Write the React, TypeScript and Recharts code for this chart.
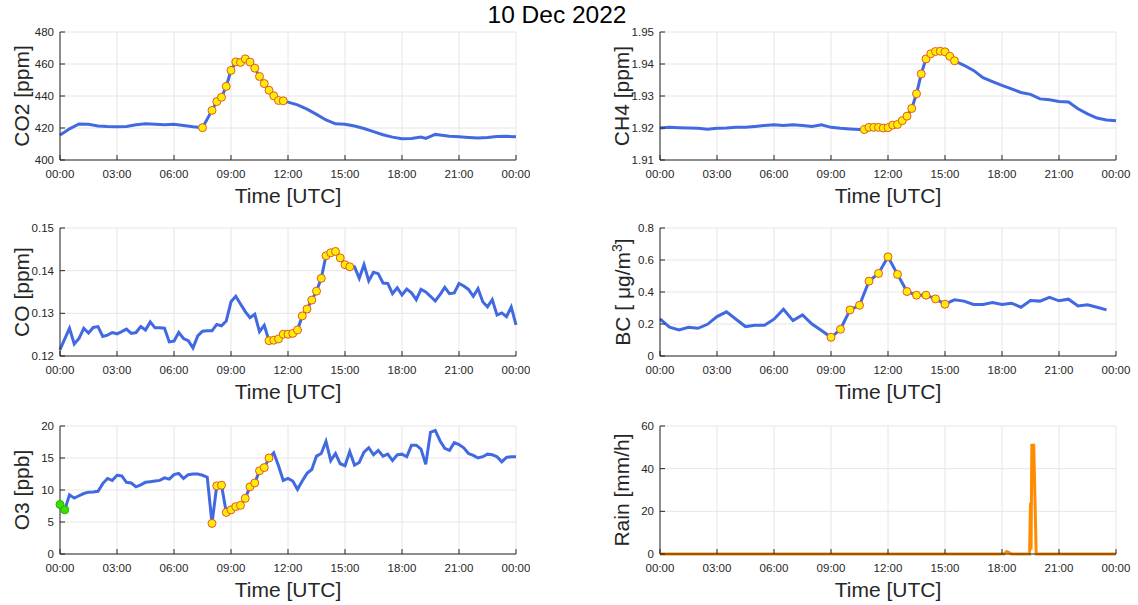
import { LineChart, Line, XAxis, YAxis, CartesianGrid } from "recharts";

const FONT = '"Liberation Sans", Arial, Helvetica, sans-serif';
const BLUE = "#4169e1";
const ORANGE = "#ff8c00";
const INK = "#262626";
const GRID = "#e6e6e6";

// x axis: hours of the day, labelled as HH:00
const timeTicks = [0, 3, 6, 9, 12, 15, 18, 21, 24];

// shared 15-minute time base (CO, O3)
const quarterHours = [
  0, 0.25, 0.5, 0.75, 1, 1.25, 1.5, 1.75, 2, 2.25, 2.5, 2.75,
  3, 3.25, 3.5, 3.75, 4, 4.25, 4.5, 4.75, 5, 5.25, 5.5, 5.75,
  6, 6.25, 6.5, 6.75, 7, 7.25, 7.5, 7.75, 8, 8.25, 8.5, 8.75,
  9, 9.25, 9.5, 9.75, 10, 10.25, 10.5, 10.75, 11, 11.25, 11.5, 11.75,
  12, 12.25, 12.5, 12.75, 13, 13.25, 13.5, 13.75, 14, 14.25, 14.5, 14.75,
  15, 15.25, 15.5, 15.75, 16, 16.25, 16.5, 16.75, 17, 17.25, 17.5, 17.75,
  18, 18.25, 18.5, 18.75, 19, 19.25, 19.5, 19.75, 20, 20.25, 20.5, 20.75,
  21, 21.25, 21.5, 21.75, 22, 22.25, 22.5, 22.75, 23, 23.25, 23.5, 23.75,
  24,
];

// CO2 [ppm]
const co2Hours = [
  0, 0.25, 0.5, 1, 1.5, 2, 2.5, 3, 3.5, 4, 4.5, 5, 5.5, 6, 6.5, 7,
  7.5, 8, 8.25, 8.5, 8.75, 9, 9.25, 9.5, 9.75, 10, 10.25, 10.5, 10.75, 11, 11.25, 11.5, 11.75,
  12, 12.5, 13, 13.5, 14, 14.5, 15, 15.5, 16, 16.5, 17, 17.5, 18, 18.5, 19,
  19.25, 19.5, 19.75, 20, 20.5, 21, 21.5, 22, 22.5, 23, 23.5, 24,
];
const co2Ppm = [
  415.6, 417.5, 419.5, 422.5, 422.4, 421.3, 420.9, 420.8, 421.0, 422.0, 422.6, 422.4, 422.1, 422.3, 421.6, 420.8,
  420.2, 431, 436.5, 439.2, 446, 456, 461.3, 461, 463.2, 461.2, 457.4, 452.2, 447.8, 443.6, 440.1, 437.2, 437,
  436.2, 434.5, 431.8, 428.5, 425, 422.6, 422.4, 421.2, 419.7, 417.7, 415.8, 414.3, 413.3, 413.5, 414.3,
  413.5, 414.8, 416, 415.6, 414.8, 414.5, 414.1, 413.7, 414.0, 414.7, 414.8, 414.5,
];
const co2Marked: [number, number, string][] = [[7.5, 11.75, "yellow"]];

// CH4 [ppm]
const ch4Hours = [
  0, 0.5, 1, 1.5, 2, 2.5, 3, 3.5, 4, 4.5, 5, 5.5, 6, 6.5, 7, 7.5, 8, 8.5, 9, 9.5, 10, 10.5,
  10.75, 11, 11.25, 11.5, 11.75, 12, 12.25, 12.5, 12.75, 13, 13.25, 13.5, 13.75, 14, 14.25, 14.5, 14.75, 15, 15.25, 15.5,
  16, 16.5, 17, 17.5, 18, 18.5, 19, 19.5, 20, 20.5, 21, 21.5, 22, 22.5, 23, 23.5, 24,
];
const ch4Ppm = [
  1.92, 1.9202, 1.9201, 1.92, 1.9199, 1.9196, 1.9199, 1.92, 1.9202, 1.9202, 1.9205, 1.9208, 1.921, 1.9208, 1.921, 1.9208, 1.9205, 1.921, 1.9202, 1.9199, 1.9197, 1.9195,
  1.9195, 1.9202, 1.9202, 1.9202, 1.92, 1.9201, 1.9209, 1.9211, 1.9223, 1.9237, 1.9261, 1.9307, 1.9369, 1.9416, 1.9432, 1.9439, 1.944, 1.9438, 1.9424, 1.941,
  1.9396, 1.938, 1.9357, 1.9345, 1.9333, 1.9322, 1.9311, 1.9305, 1.9291, 1.9288, 1.9283, 1.9281, 1.926, 1.9244, 1.9231, 1.9225, 1.9223,
];
const ch4Marked: [number, number, string][] = [[10.75, 15.5, "yellow"]];

// CO [ppm], 15-minute values
const coPpm = [
  0.1215, 0.124, 0.1265, 0.1228, 0.1241, 0.1265, 0.1254, 0.1267, 0.1269, 0.1246, 0.1249, 0.1255,
  0.1252, 0.1257, 0.1263, 0.1253, 0.1255, 0.1269, 0.1261, 0.128, 0.1266, 0.1266, 0.1265, 0.1233,
  0.1235, 0.1255, 0.1241, 0.1236, 0.1219, 0.1247, 0.1258, 0.1259, 0.1259, 0.1274, 0.1271, 0.1282,
  0.1327, 0.134, 0.1322, 0.1304, 0.129, 0.1298, 0.1257, 0.1272, 0.1236, 0.1237, 0.124, 0.1251,
  0.1251, 0.1253, 0.1261, 0.1294, 0.131, 0.1331, 0.1352, 0.1382, 0.1435, 0.1442, 0.1445, 0.143,
  0.1414, 0.1409, 0.1409, 0.1382, 0.1414, 0.1376, 0.1396, 0.1393, 0.1371, 0.137, 0.1346, 0.136,
  0.1343, 0.1357, 0.1348, 0.1332, 0.1356, 0.135, 0.134, 0.1329, 0.1344, 0.1361, 0.1346, 0.1348,
  0.137, 0.1364, 0.1356, 0.134, 0.1358, 0.1327, 0.1315, 0.1332, 0.1296, 0.1301, 0.1292, 0.1315,
  0.1273,
];
const coMarked: [number, number, string][] = [[11, 15.25, "yellow"]];

// BC [ug/m3], 30-minute values
const bcHours = [
  0, 0.5, 1, 1.5, 2, 2.5, 3, 3.5, 4, 4.5, 5, 5.5, 6, 6.5, 7, 7.5, 8, 8.5,
  9, 9.5, 10, 10.5, 11, 11.5, 12, 12.5, 13, 13.5, 14, 14.5, 15,
  15.5, 16, 16.5, 17, 17.5, 18, 18.5, 19, 19.5, 20, 20.5, 21, 21.5, 22, 22.5, 23, 23.5,
];
const bcUgm3 = [
  0.232, 0.18, 0.163, 0.18, 0.173, 0.198, 0.246, 0.276, 0.23, 0.184, 0.192, 0.192, 0.23, 0.292, 0.221, 0.257, 0.2, 0.159,
  0.117, 0.167, 0.288, 0.317, 0.468, 0.516, 0.62, 0.51, 0.403, 0.38, 0.38, 0.357, 0.324,
  0.351, 0.343, 0.322, 0.322, 0.334, 0.322, 0.33, 0.305, 0.347, 0.343, 0.366, 0.345, 0.355, 0.313, 0.32, 0.305, 0.288,
];
const bcMarked: [number, number, string][] = [[9, 15, "yellow"]];

// O3 [ppb], 15-minute values
const o3Ppb = [
  7.74, 6.9, 9.25, 8.73, 9.1, 9.45, 9.66, 9.7, 9.8, 11.0, 11.8, 11.5,
  12.3, 12.2, 11.2, 11.1, 10.5, 10.8, 11.2, 11.3, 11.4, 11.5, 11.9, 11.7,
  12.4, 12.6, 11.8, 12.4, 12.5, 12.5, 12.3, 12.0, 4.78, 10.65, 10.75, 6.5,
  6.9, 7.4, 7.6, 8.7, 10.5, 11.1, 13.0, 13.5, 15.0, 15.8, 13.8, 11.5,
  11.8, 11.4, 10.1, 11.4, 12.6, 13.2, 15.3, 15.7, 17.6, 14.6, 15.7, 14.1,
  13.8, 16.0, 13.9, 14.3, 15.9, 16.6, 15.5, 16.2, 15.3, 15.6, 14.6, 15.5,
  15.6, 15.2, 17.0, 17.0, 16.4, 14.0, 19.0, 19.3, 17.7, 16.5, 16.2, 17.4,
  17.1, 16.6, 15.7, 15.4, 15.0, 15.2, 15.6, 15.5, 15.2, 14.4, 15.1, 15.2,
  15.2,
];
const o3Marked: [number, number, string][] = [
  [0, 0.25, "green"],
  [8, 11, "yellow"],
];

// Rain [mm/h]
const rainHours = [0, 18.1, 18.25, 18.4, 18.5, 19.45, 19.5, 19.53, 19.57, 19.67, 19.8, 24];
const rainMmh = [0, 0, 1.2, 0.6, 0, 0, 24, 2, 51, 51, 0, 0];

const MARK_STYLE: Record<string, { fill: string; stroke: string }> = {
  yellow: { fill: "#ffee00", stroke: "#e4572e" },
  green: { fill: "#3ce000", stroke: "#22b000" },
};

function buildSeries(hours: number[], values: number[], marks: [number, number, string][] = []) {
  return hours.map((t, i) => {
    const m = marks.find(([a, b]) => t >= a && t <= b);
    return { t, v: values[i], mark: m ? m[2] : undefined };
  });
}

const fmtHour = (h: number) => `${String(h % 24).padStart(2, "0")}:00`;

// eslint-disable-next-line @typescript-eslint/no-explicit-any
const markerDot = (props: any) => {
  const { cx, cy, payload, index } = props;
  const s = payload && payload.mark ? MARK_STYLE[payload.mark] : null;
  if (!s || cx == null || cy == null) return <g key={`d-${index}`} />;
  return <circle key={`d-${index}`} cx={cx} cy={cy} r={4} fill={s.fill} stroke={s.stroke} strokeWidth={1} />;
};

const ROW_TOPS = [32, 228, 426];
const PLOT_H = 128;

type PanelProps = {
  col: number;
  row: number;
  data: { t: number; v: number; mark?: string }[];
  domain: [number, number];
  ticks: number[];
  fmt: (v: number) => string;
  yLabel: React.ReactNode;
  color?: string;
};

function Panel({ col, row, data, domain, ticks, fmt, yLabel, color = BLUE }: PanelProps) {
  const left = col === 0 ? 0 : 600;
  const width = col === 0 ? 530 : 538;
  const axisW = 60;
  const rightM = col === 0 ? 14 : 22;
  const plotTop = ROW_TOPS[row];
  const plotLeft = left + axisW;
  const plotRight = left + width - rightM;
  const tickStyle = { fill: INK, fontSize: 11.5, fontFamily: FONT };

  return (
    <>
      <div style={{ position: "absolute", left, top: plotTop - 12 }}>
        <LineChart width={width} height={190} data={data} margin={{ top: 12, right: rightM, bottom: 0, left: 0 }}>
          <CartesianGrid stroke={GRID} />
          {/* MATLAB-style inward ticks: negative tick size, margin pushes labels back out */}
          <XAxis
            dataKey="t"
            type="number"
            domain={[0, 24]}
            ticks={timeTicks}
            tickFormatter={fmtHour}
            height={50}
            tick={tickStyle}
            tickSize={-5}
            tickMargin={15}
            tickLine={{ stroke: INK }}
            axisLine={{ stroke: INK }}
            interval={0}
          />
          <YAxis
            type="number"
            domain={domain}
            ticks={ticks}
            tickFormatter={fmt}
            width={axisW}
            tick={tickStyle}
            tickSize={-5}
            tickMargin={11}
            tickLine={{ stroke: INK }}
            axisLine={{ stroke: INK }}
            interval={0}
          />
          <Line
            type="linear"
            dataKey="v"
            stroke={color}
            strokeWidth={3}
            dot={markerDot}
            activeDot={false}
            isAnimationActive={false}
          />
        </LineChart>
      </div>
      <div
        style={{
          position: "absolute",
          left: plotLeft - 38,
          top: plotTop + PLOT_H / 2,
          transform: "translate(-50%, -50%) rotate(-90deg)",
          fontSize: 21,
          fontFamily: FONT,
          color: INK,
          whiteSpace: "nowrap",
        }}
      >
        {yLabel}
      </div>
      <div
        style={{
          position: "absolute",
          left: (plotLeft + plotRight) / 2,
          top: plotTop + PLOT_H + 36,
          transform: "translate(-50%, -50%)",
          fontSize: 21,
          fontFamily: FONT,
          color: INK,
          whiteSpace: "nowrap",
        }}
      >
        Time [UTC]
      </div>
    </>
  );
}

export default function App() {
  return (
    <div style={{ position: "absolute", left: 0, top: 0, width: 1138, height: 605, background: "#fff", fontFamily: FONT }}>
      <div
        style={{
          position: "absolute",
          left: 557,
          top: 1,
          transform: "translateX(-50%)",
          fontSize: 24.5,
          color: "#000",
          whiteSpace: "nowrap",
        }}
      >
        10 Dec 2022
      </div>
      <Panel
        col={0}
        row={0}
        data={buildSeries(co2Hours, co2Ppm, co2Marked)}
        domain={[400, 480]}
        ticks={[400, 420, 440, 460, 480]}
        fmt={(v) => String(v)}
        yLabel="CO2 [ppm]"
      />
      <Panel
        col={1}
        row={0}
        data={buildSeries(ch4Hours, ch4Ppm, ch4Marked)}
        domain={[1.91, 1.95]}
        ticks={[1.91, 1.92, 1.93, 1.94, 1.95]}
        fmt={(v) => v.toFixed(2)}
        yLabel="CH4 [ppm]"
      />
      <Panel
        col={0}
        row={1}
        data={buildSeries(quarterHours, coPpm, coMarked)}
        domain={[0.12, 0.15]}
        ticks={[0.12, 0.13, 0.14, 0.15]}
        fmt={(v) => v.toFixed(2)}
        yLabel="CO [ppm]"
      />
      <Panel
        col={1}
        row={1}
        data={buildSeries(bcHours, bcUgm3, bcMarked)}
        domain={[0, 0.8]}
        ticks={[0, 0.2, 0.4, 0.6, 0.8]}
        fmt={(v) => (v === 0 ? "0" : v.toFixed(1))}
        yLabel={
          <span>
            BC [ μg/m<sup style={{ fontSize: 14 }}>3</sup>]
          </span>
        }
      />
      <Panel
        col={0}
        row={2}
        data={buildSeries(quarterHours, o3Ppb, o3Marked)}
        domain={[0, 20]}
        ticks={[0, 5, 10, 15, 20]}
        fmt={(v) => String(v)}
        yLabel="O3 [ppb]"
      />
      <Panel
        col={1}
        row={2}
        data={buildSeries(rainHours, rainMmh)}
        domain={[0, 60]}
        ticks={[0, 20, 40, 60]}
        fmt={(v) => String(v)}
        yLabel="Rain [mm/h]"
        color={ORANGE}
      />
    </div>
  );
}
